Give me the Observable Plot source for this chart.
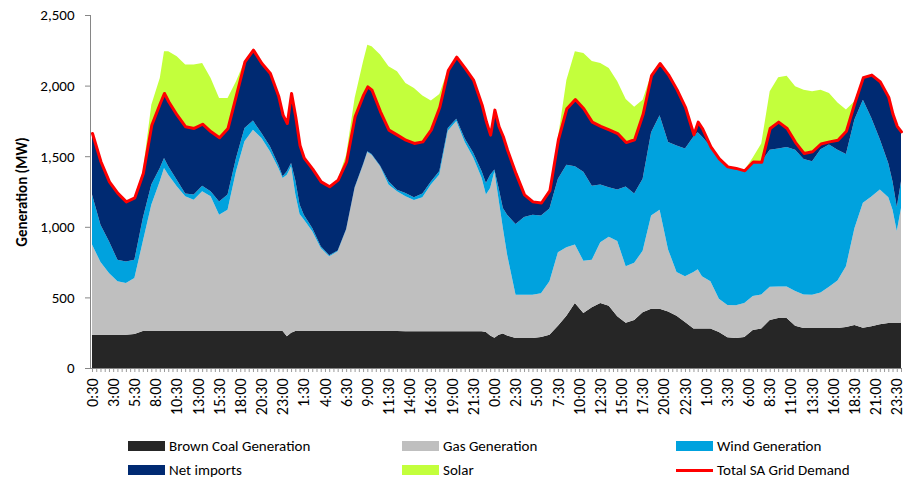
<!DOCTYPE html>
<html><head><meta charset="utf-8">
<script src="https://cdn.jsdelivr.net/npm/d3@7"></script>
<script src="https://cdn.jsdelivr.net/npm/@observablehq/plot@0.6"></script>
<style>
body{margin:0;background:#fff;font-family:Carlito,Lato,sans-serif;}
#wrap{position:relative;width:917px;height:482px;overflow:hidden;}
#legend{position:absolute;left:0;top:430px;width:917px;height:52px;}
.li{position:absolute;font-size:15px;color:#000;white-space:nowrap;line-height:16px;}
.sw{position:absolute;}
</style></head><body>
<div id="wrap"><div id="chart"></div><div id="legend"></div></div>
<script>
// half-hour slot index (0 = 0:30 on day 1)
const slot = [0,2,4,6,8,10,12,14,16,17,18,20,22,24,26,28,30,32,34,36,38,40,42,44,45,46,47,48,49,50,52,54,56,58,60,62,64,65,66,68,70,72,74,76,78,80,82,84,86,88,90,92,93,94,95,96,97,98,100,102,104,106,108,110,112,114,116,118,120,122,124,126,128,130,132,134,136,138,140,142,143,144,146,148,150,152,154,156,158,160,162,164,166,168,170,172,174,176,178,180,182,184,186,188,189,190,191];
const coal = [236,236,236,236,236,240,262,262,262,262,262,262,262,262,262,262,262,262,262,262,262,262,262,262,262,224,250,262,262,262,262,262,262,262,262,262,262,262,262,262,262,262,260,260,260,260,260,260,260,260,260,260,255,230,215,235,245,230,212,212,212,220,236,300,370,460,390,430,460,440,366,320,340,395,420,420,401,370,326,280,279,279,279,255,218,212,220,270,280,340,354,354,300,283,283,283,283,283,290,305,285,295,310,319,319,319,319];
const gas = [638,514,437,378,366,397,635,895,1060,1155,1107,1025,954,930,989,954,824,859,1131,1343,1426,1367,1273,1155,1084,1145,1178,968,828,789,706,588,529,564,718,1013,1178,1268,1249,1166,1037,989,956,930,950,1039,1110,1420,1490,1340,1230,1086,973,1045,1178,957,747,573,307,307,307,310,379,520,485,414,370,337,430,490,534,400,405,435,660,700,439,310,324,400,421,371,335,235,228,232,240,240,240,235,224,224,245,237,236,252,292,337,430,685,885,920,955,891,801,651,814];
const wind = [354,265,224,153,153,130,165,142,95,70,59,47,19,36,39,35,94,107,94,95,64,35,35,23,12,24,24,100,70,35,24,12,7,6,5,5,5,5,5,7,23,12,24,20,25,21,25,20,15,25,35,47,82,94,12,83,141,283,501,551,567,550,515,520,585,554,630,523,409,350,365,565,490,510,590,670,760,895,905,960,970,990,956,995,982,973,940,952,940,970,977,987,1000,960,945,1015,1007,925,795,770,730,555,355,240,200,170,189];
const imports = [436,449,425,473,425,442,319,424,460,461,461,460,477,472,440,425,454,472,449,472,503,496,519,484,436,342,496,450,420,404,420,460,489,502,479,503,491,460,455,383,366,390,377,384,370,370,455,410,440,500,515,472,437,284,425,437,508,460,360,160,94,92,130,280,400,477,450,455,416,410,399,315,385,460,405,370,480,400,295,15,75,60,0,0,0,0,0,0,0,155,190,135,55,43,71,40,23,72,165,120,160,308,410,470,480,575,354];
const solar = [0,0,0,0,0,0,12,142,177,295,354,414,437,449,430,378,278,212,94,0,0,0,0,0,0,0,0,0,0,0,0,0,0,0,47,129,236,295,307,402,449,448,402,389,325,205,90,0,0,0,0,0,0,0,0,0,0,0,0,0,0,0,0,10,200,338,390,430,445,435,366,305,230,100,5,0,0,0,0,0,0,0,0,0,0,0,0,28,130,260,315,370,395,448,425,381,343,263,150,10,0,0,0,0,0,0,0];
const demand = [1664,1464,1322,1240,1180,1209,1381,1723,1877,1948,1889,1794,1712,1700,1730,1676,1634,1700,1936,2172,2255,2160,2089,1924,1794,1735,1948,1780,1580,1490,1412,1322,1287,1334,1464,1783,1936,1995,1971,1818,1688,1653,1617,1594,1605,1690,1850,2110,2205,2125,2040,1865,1747,1653,1830,1712,1641,1546,1380,1230,1180,1172,1260,1620,1840,1905,1840,1745,1715,1690,1664,1600,1620,1800,2075,2160,2080,1975,1850,1655,1745,1700,1570,1485,1428,1417,1400,1462,1460,1700,1745,1700,1600,1523,1535,1590,1605,1617,1680,1880,2060,2078,2030,1920,1800,1715,1676];
const tickLabels = ["0:30","3:00","5:30","8:00","10:30","13:00","15:30","18:00","20:30","23:00","1:30","4:00","6:30","9:00","11:30","14:00","16:30","19:00","21:30","0:00","2:30","5:00","7:30","10:00","12:30","15:00","17:30","20:00","22:30","1:00","3:30","6:00","8:30","11:00","13:30","16:00","18:30","21:00","23:30"];
const yTicks = [0,500,1000,1500,2000,2500];
const seriesNames = ["Brown Coal Generation","Gas Generation","Wind Generation","Net imports","Solar"];
const seriesColors = ["#262626","#bfbfbf","#00a2de","#002a72","#c3ff3c"];
const demandName = "Total SA Grid Demand";
const demandColor = "#ff0000";

const seriesValues = [coal, gas, wind, imports, solar];
const rows = slot.flatMap((t, i) => seriesValues.map((arr, k) => ({t, series: seriesNames[k], value: arr[i]})));
const demandRows = slot.map((t, i) => ({t, value: demand[i]}));
const tickSlots = tickLabels.map((_, k) => k * 5);
const allSlots = d3.range(0, 192);

const chart = Plot.plot({
  width: 917, height: 430,
  marginLeft: 90, marginRight: 16, marginTop: 15, marginBottom: 62,
  x: {domain: [0, 191], range: [92, 901]},
  y: {domain: [0, 2500]},
  color: {domain: seriesNames, range: seriesColors},
  style: {fontFamily: "Carlito, Lato, sans-serif", fontSize: "15px", color: "#000", background: "#fff"},
  marks: [
    Plot.areaY(rows, {x: "t", y: "value", fill: "series", order: seriesNames}),
    Plot.line(demandRows, {x: "t", y: "value", stroke: demandColor, strokeWidth: 3}),
    Plot.axisY({ticks: yTicks, tickFormat: d3.format(","), tickSize: 5, tickPadding: 11, stroke: "#868686",
      label: "Generation (MW)", labelAnchor: "center", labelArrow: "none", labelOffset: 74}),
    Plot.axisX({ticks: allSlots, tickSize: 4, tickFormat: () => "", stroke: "#9a9a9a", label: null}),
    Plot.axisX({ticks: tickSlots, tickFormat: d => tickLabels[Math.round(d / 5)], tickRotate: -90, tickSize: 0, tickPadding: 10, label: null, fontSize: 16}),
    Plot.frame({anchor: "left", stroke: "#868686"}),
    Plot.frame({anchor: "bottom", stroke: "#868686"})
  ]
});
document.getElementById("chart").appendChild(chart);
chart.querySelectorAll('[aria-label="y-axis label"] text').forEach(t => { t.style.fontWeight = "bold"; });

// legend
const legend = document.getElementById("legend");
const legItems = seriesNames.map((n, k) => ({name: n, color: seriesColors[k], line: false}));
legItems.push({name: demandName, color: demandColor, line: true});
const colX = [128, 402, 676];
const rowY = [16, 40];
legItems.forEach((it, k) => {
  const col = k % 3, row = Math.floor(k / 3);
  const sw = document.createElement("div");
  sw.className = "sw";
  sw.style.left = colX[col] + "px";
  sw.style.width = "37px";
  sw.style.background = it.color;
  if (it.line) { sw.style.top = (rowY[row] - 1.5) + "px"; sw.style.height = "3px"; }
  else { sw.style.top = (rowY[row] - 5) + "px"; sw.style.height = "10px"; }
  legend.appendChild(sw);
  const tx = document.createElement("div");
  tx.className = "li";
  tx.textContent = it.name;
  tx.style.left = (colX[col] + 41) + "px";
  tx.style.top = (rowY[row] - 8) + "px";
  legend.appendChild(tx);
});
</script>
</body></html>
